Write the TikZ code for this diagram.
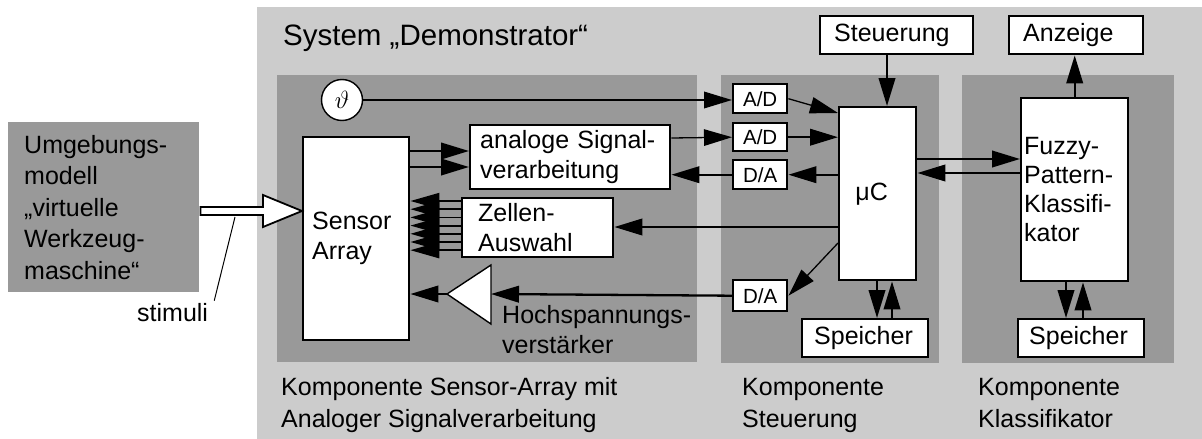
\documentclass[tikz,border=0pt]{standalone}
\usepackage{fontspec}
\setmainfont{Liberation Sans}
\usetikzlibrary{arrows.meta,calc}
\definecolor{lgray}{HTML}{CCCCCC}
\definecolor{dgray}{HTML}{999999}
\newcommand{\bigf}{\fontsize{25}{30}\selectfont}
\newcommand{\envf}{\fontsize{25}{31.5}\selectfont}
\newcommand{\lblf}{\fontsize{25}{32}\selectfont}
\newcommand{\smallf}{\fontsize{20.5}{24}\selectfont}
\newcommand{\titlef}{\fontsize{29.5}{34}\selectfont}
\begin{document}
\begin{tikzpicture}[x=1pt,y=-1pt,
  blk/.style={draw, fill=white, line width=2.4pt, inner sep=0pt, align=left, anchor=north west, font=\bigf},
  sblk/.style={blk, font=\smallf, align=center},
  arr/.style={line width=2.3pt, -{Triangle[length=28pt,width=16.5pt]}},
  tarr/.style={line width=1.3pt, -{Triangle[length=28pt,width=16.5pt]}},
  zarr/.style={line width=1.8pt, -{Triangle[length=29pt,width=16pt]}},
  lbl/.style={inner sep=0pt, anchor=base west, align=left, font=\lblf},
]
\useasboundingbox (0,0) rectangle (1202,439);
\fill[white] (0,0) rectangle (1202,439);
% system and component areas
\fill[lgray] (257,7) rectangle (1202,439);
\fill[dgray] (277,75) rectangle (697,362);
\fill[dgray] (721,75) rectangle (939,363);
\fill[dgray] (962,75) rectangle (1174,363);

% environment model
\node[blk, fill=dgray, draw=none, font=\envf, minimum width=191pt, minimum height=170pt, text width=159pt] (env) at (7,121)
  {Umgebungs-\\modell\\„virtuelle\\Werkzeug-\\maschine“};

% blocks
\node[blk, minimum width=106pt, minimum height=203pt, text width=88pt] (sensor) at (302,136) {Sensor\\Array};
\node[blk, minimum width=200pt, minimum height=64pt, text width=180pt] (analog) at (469,124) {analoge Signal-\\verarbeitung};
\node[blk, minimum width=151pt, minimum height=59pt, text width=119pt] (zellen) at (461,197) {Zellen-\\Auswahl};
\node[blk, minimum width=77pt, minimum height=173pt, align=center] (uc) at (838,106) {μC\hspace*{12pt}};
\node[blk, font=\fontsize{25}{29}\selectfont, minimum width=107pt, minimum height=183pt, text width=101pt] (fuzzy) at (1020,97) {Fuzzy-\\Pattern-\\Klassifi-\\kator};
\node[blk, minimum width=153pt, minimum height=38pt, text width=125pt] (steu) at (819,15) {Steuerung};
\node[blk, minimum width=134pt, minimum height=38pt, text width=106pt] (anz) at (1008,15) {Anzeige};
\node[blk, minimum width=126pt, minimum height=38pt, text width=102pt] (sp1) at (801,318) {Speicher};
\node[blk, minimum width=126pt, minimum height=38pt, text width=104pt] (sp2) at (1017,318) {Speicher};
\node[sblk, minimum width=54pt, minimum height=29pt] (ad1) at (732,83) {A/D};
\node[sblk, minimum width=54pt, minimum height=28pt] (ad2) at (732,122) {A/D};
\node[sblk, minimum width=54pt, minimum height=29pt] (da1) at (732,159) {D/A};
\node[sblk, minimum width=54pt, minimum height=31pt] (da2) at (732,279) {D/A};
\node[draw, fill=white, circle, line width=1.4pt, minimum size=41pt, inner sep=0pt] (theta) at (342,100) {\fontsize{28}{28}\selectfont$\vartheta$};

% amplifier
\coordinate (ampL) at (447,294);
\coordinate (ampR) at (491,294);
\draw[fill=white, line width=1.4pt, line join=miter] (ampL) -- (491,265) -- (491,324) -- cycle;

% connectors
\draw[arr, line width=2pt] (theta.east) -- (theta.east -| ad1.west);
\draw[tarr] (ad1.east) -- ($(uc.north west)+(0,7)$);
\coordinate (an1) at ($(analog.north east)+(0,14)$);
\draw[tarr] (an1) -- (ad2.west);
\draw[arr] (ad2.east) -- (ad2.east -| uc.west);
\draw[arr] (da1.east -| uc.west) -- (da1.east);
\draw[arr] (da1.west) -- (da1.west -| analog.east);
\coordinate (s1) at ($(sensor.north east)+(0,15)$);
\coordinate (s2) at ($(sensor.north east)+(0,31)$);
\draw[arr] (s1) -- (s1 -| analog.west);
\draw[arr] (s2) -- (s2 -| analog.west);
\foreach \k in {0,...,6} {
  \coordinate (z\k) at ($(zellen.north west)+(0,{4+8.2*\k})$);
  \draw[zarr] (z\k) -- (z\k -| sensor.east);
}
\coordinate (u1) at ($(uc.north west)+(0,121)$);
\draw[arr] (u1) -- (u1 -| zellen.east);
\draw[tarr] ($(uc.north west)+(0,137)$) -- (da2.east);
\draw[arr] (da2.west) -- (ampR);
\draw[arr] (ampL) -- (ampL -| sensor.east);
\coordinate (k1) at ($(uc.north west)+(49,0)$);
\draw[arr] (k1 |- steu.south) -- (k1);
\coordinate (f1) at ($(uc.north east)+(0,53)$);
\coordinate (f2) at ($(uc.north east)+(0,67)$);
\draw[arr] (f1) -- (f1 -| fuzzy.west);
\draw[arr] (f2 -| fuzzy.west) -- (f2);
\draw[arr] (fuzzy.north) -- (fuzzy.north |- anz.south);
\coordinate (m1) at ($(uc.south west)+(39,0)$);
\coordinate (m2) at ($(uc.south west)+(54,0)$);
\draw[arr] (m1) -- (m1 |- sp1.north);
\draw[arr] (m2 |- sp1.north) -- (m2);
\coordinate (n1) at ($(fuzzy.south west)+(46,0)$);
\coordinate (n2) at ($(fuzzy.south west)+(63,0)$);
\draw[arr] (n1) -- (n1 |- sp2.north);
\draw[arr] (n2 |- sp2.north) -- (n2);

% stimuli arrow (hollow)
\draw[fill=white, line width=1.8pt, line join=miter] (env.east |- 0,207) -- (263,207) -- (263,195) -- (sensor.west |- 0,211) -- (263,227) -- (263,215) -- (env.east |- 0,215) -- cycle;
\node[lbl] (stim) at (137,321) {stimuli};
\draw[line width=1pt] (235,217) -- ($(stim.north east)+(6,-2)$);

% labels (base anchor = baseline of the last line)
\node[lbl, font=\titlef] (title) at (283,45) {System „Demonstrator“};
\node[lbl] (lk1) at (281,427) {Komponente Sensor-Array mit\\Analoger Signalverarbeitung};
\node[lbl] (lk2) at (742,427) {Komponente\\Steuerung};
\node[lbl] (lk3) at (978,427) {Komponente\\Klassifikator};
\node[lbl, font=\bigf] (hv) at (502,353) {Hochspannungs-\\verstärker};
\end{tikzpicture}
\end{document}
